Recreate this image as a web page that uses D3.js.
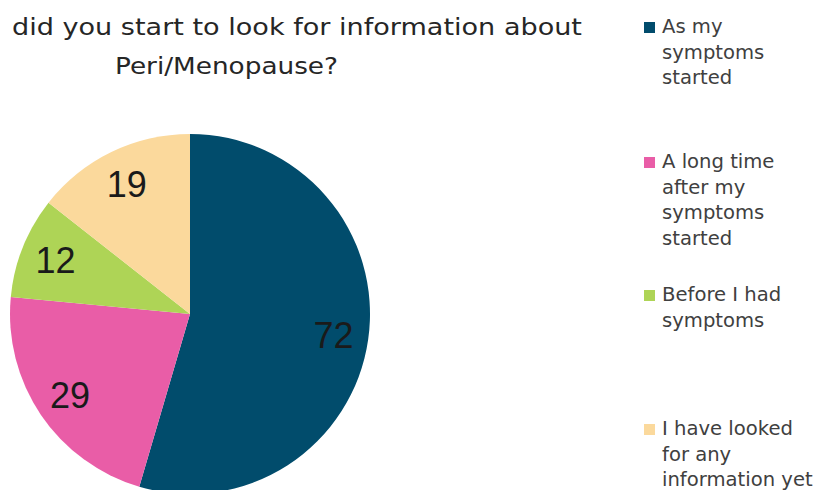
<!DOCTYPE html>
<html><head><meta charset="utf-8">
<script src="https://cdn.jsdelivr.net/npm/d3@7"></script>
<style>body{margin:0;background:#fff}svg{display:block}</style>
</head><body>
<svg id="chart" width="820" height="490"></svg>
<script>
const categories = ["As my symptoms started", "A long time after my symptoms started", "Before I had symptoms", "I have looked for any information yet"];
const values = [72, 29, 12, 19];
const colors = ["#014C6C", "#E95DA7", "#AED456", "#FBD99C"];
const legendLines = [["As my", "symptoms", "started"], ["A long time", "after my", "symptoms", "started"], ["Before I had", "symptoms"], ["I have looked", "for any", "information yet"]];
const titleLines = ["did you start to look for information about", "Peri/Menopause?"];

const svg = d3.select("#chart");
const cx = 190, cy = 314, r = 180;

const pie = d3.pie().sort(null).value(d => d)(values);
const arc = d3.arc().innerRadius(0).outerRadius(r);
const labelArc = d3.arc().innerRadius(r * 0.805).outerRadius(r * 0.805);

const g = svg.append("g").attr("transform", `translate(${cx},${cy})`);
g.selectAll("path").data(pie).join("path")
  .attr("d", arc).attr("fill", (d, i) => colors[i]);
g.selectAll("text").data(pie).join("text")
  .attr("transform", d => `translate(${labelArc.centroid(d)})`)
  .attr("text-anchor", "middle").attr("dy", "0.36em")
  .attr("font-family", "Liberation Sans, Arial, sans-serif")
  .attr("font-size", 36).attr("fill", "#1a1a1a")
  .text(d => d.data);

// title
const titleX = [12, 115], titleW = [570, 223], titleBase = [35, 74];
svg.append("g").selectAll("text").data(titleLines).join("text")
  .attr("x", (d, i) => titleX[i]).attr("y", (d, i) => titleBase[i])
  .attr("textLength", (d, i) => titleW[i]).attr("lengthAdjust", "spacingAndGlyphs")
  .attr("font-family", "DejaVu Sans, sans-serif").attr("font-size", 23)
  .attr("fill", "#262626").text(d => d);

// legend
const legendBase = [33, 168, 301, 435];
const lg = svg.append("g");
categories.forEach((c, i) => {
  lg.append("rect").attr("x", 644).attr("y", legendBase[i] - 11).attr("width", 11).attr("height", 11).attr("fill", colors[i]);
  legendLines[i].forEach((t, j) => {
    lg.append("text").attr("x", 662).attr("y", legendBase[i] + j * 25.6)
      .attr("font-family", "DejaVu Sans, sans-serif").attr("font-size", 19.6)
      .attr("fill", "#404040").text(t);
  });
});
</script>
</body></html>
